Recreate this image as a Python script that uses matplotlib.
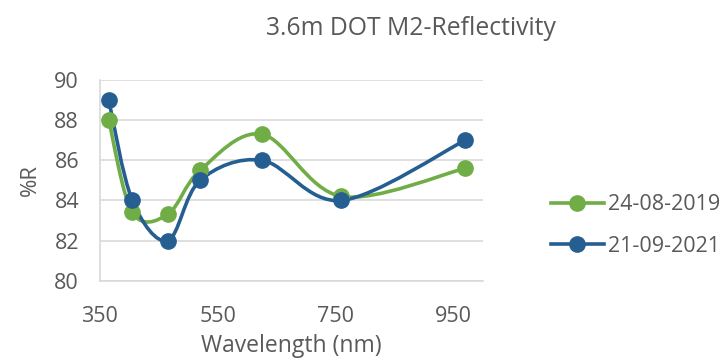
import numpy as np
import matplotlib
matplotlib.use("agg")
import matplotlib.pyplot as plt
from matplotlib.path import Path
from matplotlib.patches import PathPatch
from matplotlib.lines import Line2D

# wavelengths (nm) and reflectivity (%R)
wavelength = [365, 405, 465, 520, 625, 760, 970]
refl_2019 = [88.0, 83.4, 83.3, 85.5, 87.3, 84.2, 85.6]
refl_2021 = [89.0, 84.0, 82.0, 85.0, 86.0, 84.0, 87.0]
labels = ["24-08-2019", "21-09-2021"]
colors = ["#70AD47", "#255E91"]

TXT = "#595959"
plt.rcParams['font.family'] = ['Open Sans', 'DejaVu Sans']


def smooth_path(x, y):
    # excel-style smoothed line: cubic bezier, tangents from neighbours
    pts = np.column_stack([x, y]).astype(float)
    n = len(pts)
    verts = [pts[0]]
    codes = [Path.MOVETO]
    for i in range(n - 1):
        p0 = pts[max(i - 1, 0)]
        p1 = pts[i]
        p2 = pts[i + 1]
        p3 = pts[min(i + 2, n - 1)]
        c1 = p1 + (p2 - p0) / 6.0
        c2 = p2 - (p3 - p1) / 6.0
        verts += [c1, c2, p2]
        codes += [Path.CURVE4] * 3
    return Path(verts, codes)


fig = plt.figure(figsize=(7.24, 3.64), dpi=100)
ax = fig.add_axes([0.138, 0.229, 0.529, 0.551])

handles = []
for yv, c, lab in zip([refl_2019, refl_2021], colors, labels):
    ax.add_patch(PathPatch(smooth_path(wavelength, yv), fill=False,
                           edgecolor=c, lw=2.6, capstyle='round'))
    ax.plot(wavelength, yv, 'o', color=c, ms=11, zorder=3)
    handles.append(Line2D([], [], color=c, lw=2.6, marker='o', ms=11))

ax.set_xlim(350, 1000)
ax.set_ylim(80, 90)
ax.set_xticks([350, 550, 750, 950])
ax.set_yticks(np.arange(80, 91, 2))
ax.grid(axis='y', color='#d9d9d9', lw=1.2)
ax.set_axisbelow(True)
for s in ['top', 'right']:
    ax.spines[s].set_visible(False)
for s in ['left', 'bottom']:
    ax.spines[s].set_color('#d9d9d9')
    ax.spines[s].set_linewidth(1.2)
ax.tick_params(length=0, labelsize=15.5, colors=TXT)
ax.tick_params(axis='y', pad=15)
ax.tick_params(axis='x', pad=18)

ax.set_xlabel("Wavelength (nm)", fontsize=16.5, color=TXT, labelpad=5)
ax.set_ylabel("%R", fontsize=16, color=TXT, labelpad=10)
fig.text(0.568, 0.922, "3.6m DOT M2-Reflectivity", fontsize=17.8,
         color=TXT, ha='center', va='center')

fig.legend(handles, labels, loc='center left', bbox_to_anchor=(0.734, 0.38),
           frameon=False, fontsize=15.5, labelcolor=TXT, handlelength=2.45,
           handletextpad=0.2, labelspacing=0.95)

fig.savefig("out.png", dpi=100)
